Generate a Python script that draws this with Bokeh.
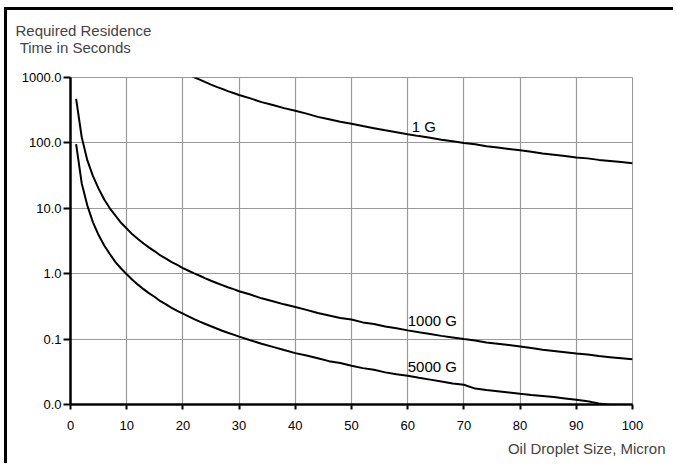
from bokeh.plotting import figure
from bokeh.models import Range1d, FixedTicker, NumeralTickFormatter, Title
from bokeh.core.properties import value
from bokeh.embed import file_html
from bokeh.resources import INLINE

# Oil droplet size (micron)
size = [1, 2, 3, 4, 5, 6, 7, 8, 9, 10, 11, 12, 13, 14, 15, 16, 17, 18, 19, 20,
        21, 22, 23, 24, 25, 26, 27, 28, 29, 30, 32, 34, 36, 38, 40, 42, 44, 46,
        48, 50, 52, 54, 56, 58, 60, 62, 64, 66, 68, 70, 72, 74, 76, 78, 80, 82,
        84, 86, 88, 90, 92, 94, 96, 98, 100]

# Required residence time (s) at 1000 G
t_1000g = [470, 122, 54, 31, 20, 13.6, 10, 7.7, 6.0, 4.9, 4.0, 3.4, 2.9, 2.5, 2.2,
           1.9, 1.7, 1.5, 1.36, 1.22, 1.11, 1.01, 0.93, 0.85, 0.78, 0.72, 0.67,
           0.62, 0.58, 0.54, 0.48, 0.42, 0.38, 0.34, 0.31, 0.28, 0.25, 0.23, 0.21,
           0.20, 0.18, 0.17, 0.156, 0.146, 0.136, 0.127, 0.120, 0.112, 0.106,
           0.100, 0.095, 0.089, 0.085, 0.081, 0.077, 0.073, 0.069, 0.066, 0.063,
           0.060, 0.058, 0.055, 0.053, 0.051, 0.049]

# Required residence time (s) at 5000 G
t_5000g = [96, 24, 11, 6.1, 3.9, 2.7, 2.0, 1.5, 1.2, 0.98, 0.81, 0.68, 0.58, 0.50,
           0.44, 0.38, 0.34, 0.30, 0.27, 0.245, 0.222, 0.202, 0.185, 0.170, 0.157,
           0.145, 0.134, 0.125, 0.117, 0.109, 0.096, 0.085, 0.076, 0.068, 0.061,
           0.056, 0.051, 0.046, 0.043, 0.039, 0.036, 0.034, 0.031, 0.029, 0.0275,
           0.0256, 0.024, 0.0225, 0.021, 0.020, 0.0175, 0.0167, 0.0160, 0.0153,
           0.0146, 0.0140, 0.0135, 0.0130, 0.0124, 0.0118, 0.0112, 0.0104,
           0.0098, 0.0094, 0.0090]

# Required residence time (s) at 1 G (from 20 micron upward)
size_1g = [20, 21, 22, 23, 24, 25, 26, 27, 28, 29, 30, 32, 34, 36, 38, 40, 42, 44,
           46, 48, 50, 52, 54, 56, 58, 60, 62, 64, 66, 68, 70, 72, 74, 76, 78, 80,
           82, 84, 86, 88, 90, 92, 94, 96, 98, 100]
t_1g = [1220, 1110, 1010, 930, 850, 780, 720, 670, 620, 580, 540, 480, 420, 380,
        340, 310, 280, 250, 230, 210, 196, 181, 168, 156, 146, 136, 127, 120, 112,
        106, 100, 95, 89, 85, 81, 77, 73, 69, 66, 63, 60, 58, 55, 53, 51, 49]

curve_labels = ["1 G", "1000 G", "5000 G"]
label_x = [60.7, 60.0, 60.0]
label_y = [176, 0.19, 0.0377]

FONT = "Liberation Sans"

p = figure(width=669, height=456, y_axis_type="log",
           x_range=Range1d(0, 100), y_range=Range1d(0.01, 1000),
           output_backend="svg", toolbar_location=None,
           min_border_left=63, min_border_right=44,
           min_border_top=67, min_border_bottom=62)
p.styles = {"border-left": "3px solid black", "border-top": "3px solid black",
            "margin-left": "4px", "margin-top": "7px"}

p.outline_line_color = "#999999"
p.outline_line_width = 1

for ax in (p.xaxis[0], p.yaxis[0]):
    ax.axis_line_color = "black"
    ax.axis_line_width = 2.5
    ax.major_tick_line_color = "black"
    ax.major_tick_line_width = 2
    ax.major_tick_in = 0
    ax.minor_tick_line_color = None
    ax.major_label_text_font = FONT
    ax.major_label_text_font_size = "13px"
    ax.major_label_text_color = "black"

p.xaxis.ticker = FixedTicker(ticks=[0, 10, 20, 30, 40, 50, 60, 70, 80, 90, 100])
p.yaxis.ticker = FixedTicker(ticks=[0.01, 0.1, 1, 10, 100, 1000])
p.yaxis.formatter = NumeralTickFormatter(format="0.0")
p.xaxis.major_tick_out = 5
p.yaxis.major_tick_out = 7
p.xaxis.major_label_standoff = 11
p.yaxis.major_label_standoff = 2

p.xgrid.ticker = FixedTicker(ticks=[10, 20, 30, 40, 50, 60, 70, 80, 90, 100])
p.ygrid.ticker = FixedTicker(ticks=[0.1, 1, 10, 100, 1000])
for g in (p.xgrid[0], p.ygrid[0]):
    g.grid_line_color = "#999999"
    g.grid_line_width = 1.2
    g.grid_line_alpha = 1

p.line(size_1g, t_1g, line_color="black", line_width=2)
p.line(size, t_1000g, line_color="black", line_width=2)
p.line(size, t_5000g, line_color="black", line_width=2)

p.text(x=label_x, y=label_y, text=curve_labels, text_font=value(FONT),
       text_font_size="15px", text_baseline="middle", text_align="left",
       text_color="black")

# spacer between the frame and the y-axis caption
p.add_layout(Title(text=" ", text_font=FONT, text_font_size="4px"), "above")
p.add_layout(Title(text="Required Residence\n\u00a0Time in Seconds", text_font=FONT,
                   text_font_size="15px", text_font_style="normal",
                   align="left", offset=-55), "above")
p.add_layout(Title(text="Oil Droplet Size, Micron", text_font=FONT,
                   text_font_size="15px", text_font_style="normal",
                   align="right", offset=-33), "below")

open("out.html", "w").write(file_html(p, INLINE))
